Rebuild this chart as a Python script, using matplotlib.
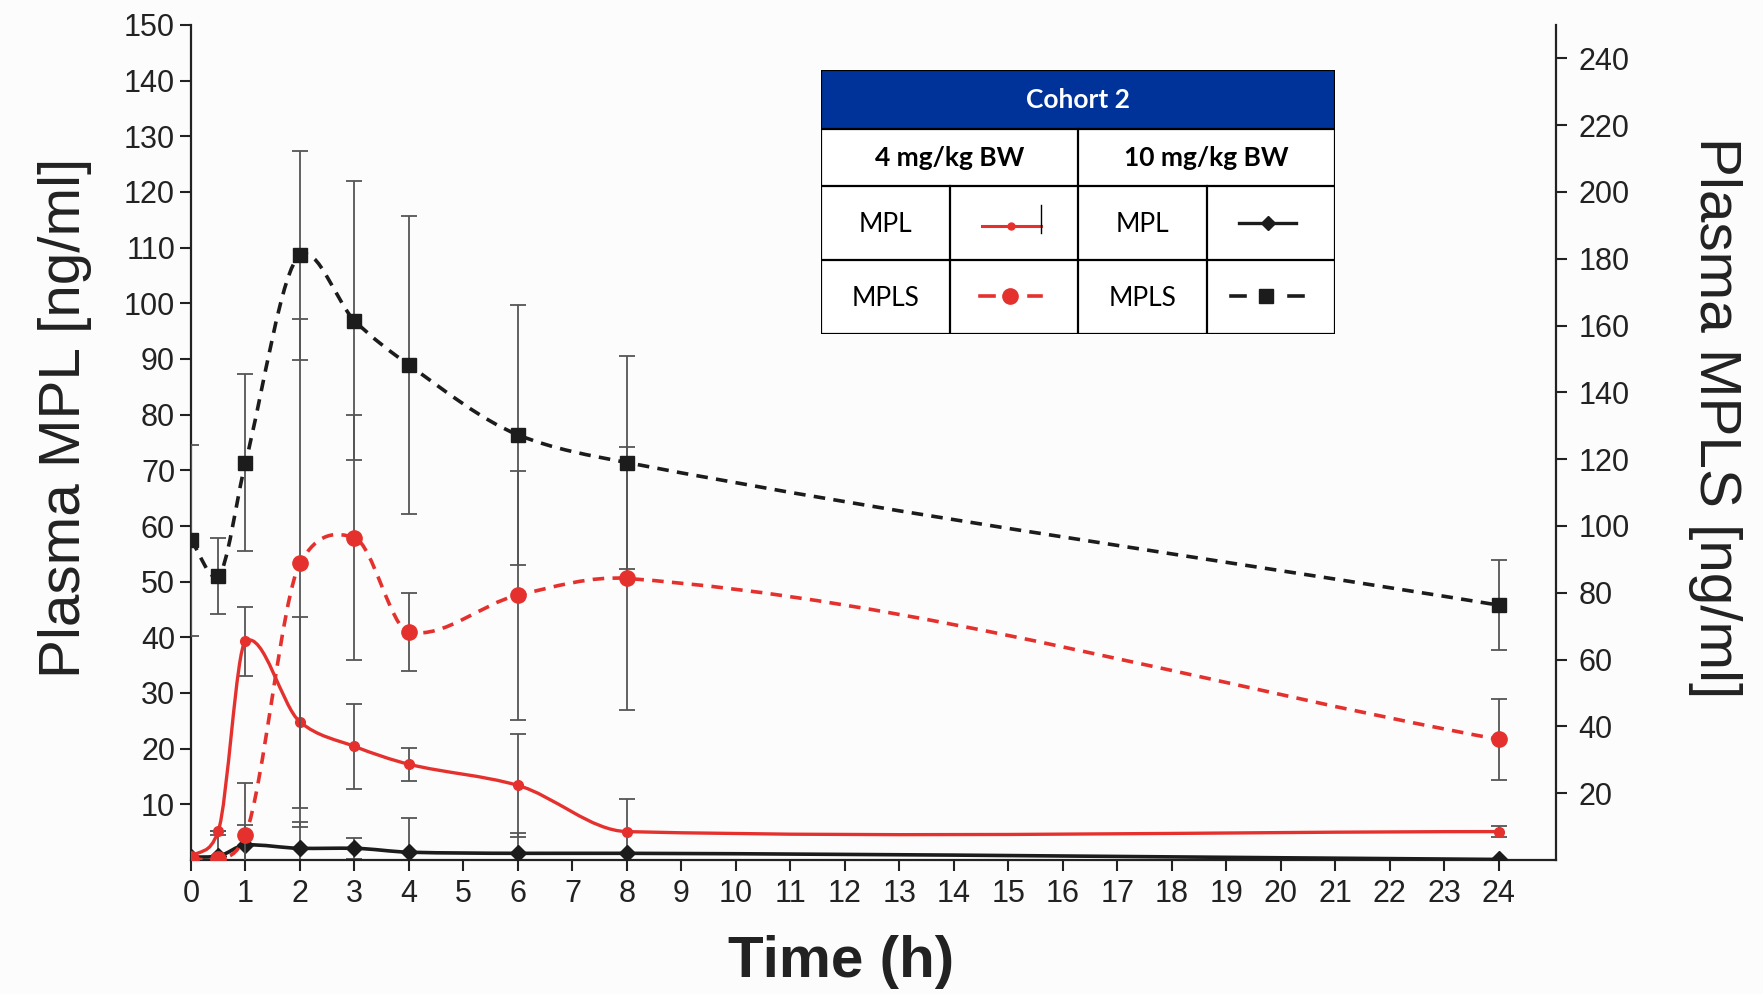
import numpy as np
import matplotlib.pyplot as plt
from matplotlib.path import Path
from matplotlib.patches import PathPatch, Rectangle
from matplotlib.lines import Line2D

# sampling times (h)
time_h = [0, 0.5, 1, 2, 3, 4, 6, 8, 24]

# 4 mg/kg BW : MPL on the left axis, MPLS on the right axis (ng/ml)
mpl_4 = [0.5, 5.2, 39.3, 24.8, 20.4, 17.2, 13.4, 5.1, 5.1]
mpl_4_sd = [0, 0, 6.2, 18.9, 7.6, 3.0, 9.3, 5.8, 0.95]
mpls_4 = [0.3, 0.3, 7.6, 88.8, 96.5, 68.2, 79.3, 84.3, 36.1]
mpls_4_sd = [0, 0, 15.5, 73.3, 36.7, 11.7, 37.3, 39.5, 12.2]

# 10 mg/kg BW
mpl_10 = [0.5, 0.7, 2.7, 2.1, 2.1, 1.4, 1.2, 1.2, 0.1]
mpl_10_sd = [0, 3.8, 3.6, 4.8, 1.9, 6.1, 3.6, 0, 0]
mpls_10 = [95.7, 85.0, 119.0, 181.0, 161.5, 148.2, 127.3, 119.0, 76.3]
mpls_10_sd = [28.5, 11.3, 26.5, 31.2, 41.7, 44.7, 39.0, 32.0, 13.4]

x_ticks = list(range(0, 25))
left_ticks = list(range(10, 151, 10))
right_ticks = list(range(20, 241, 20))

RED = '#e5312e'
BLK = '#1c1c1c'
ERR = '#555555'
FONT = 'Liberation Sans'
TFONT = ['Lato', 'DejaVu Sans']


def smooth_path(x, y):
    # smooth curve through the points (hermite segments drawn as bezier)
    x = np.asarray(x, float)
    y = np.asarray(y, float)
    d = np.diff(y) / np.diff(x)
    h = np.diff(x)
    m = np.empty(len(x))
    m[0], m[-1] = d[0], d[-1]
    for i in range(1, len(x) - 1):
        central = (y[i + 1] - y[i - 1]) / (x[i + 1] - x[i - 1])
        if d[i - 1] * d[i] <= 0:
            mono = 0.0
        else:
            w1, w2 = 2 * h[i] + h[i - 1], h[i] + 2 * h[i - 1]
            mono = (w1 + w2) / (w1 / d[i - 1] + w2 / d[i])
        m[i] = 0.5 * (central + mono)
    verts = [(x[0], y[0])]
    codes = [Path.MOVETO]
    for i in range(len(x) - 1):
        verts += [(x[i] + h[i] / 3, y[i] + m[i] * h[i] / 3),
                  (x[i + 1] - h[i] / 3, y[i + 1] - m[i + 1] * h[i] / 3),
                  (x[i + 1], y[i + 1])]
        codes += [Path.CURVE4] * 3
    return Path(verts, codes)


fig = plt.figure(figsize=(17.63, 9.94), dpi=100, facecolor='#fcfcfc')
ax = fig.add_axes([191 / 1763, 1 - 860 / 994, 1365 / 1763, 835 / 994])
ax.set_facecolor('none')
ax2 = ax.twinx()

ax.set_xlim(0, 25.05)
ax.set_ylim(0, 150)
ax2.set_ylim(0, 250)

eb = dict(fmt='none', ecolor=ERR, elinewidth=1.3, capsize=6, capthick=1.3, zorder=2)
dash = (0, (3.2, 2.3))

# 10 mg/kg MPL (left axis)
ax.errorbar(time_h, mpl_10, yerr=mpl_10_sd, **eb)
ax.add_patch(PathPatch(smooth_path(time_h, mpl_10), fill=False,
                       edgecolor=BLK, lw=2.6, zorder=3))
ax.plot(time_h, mpl_10, ls='none', marker='D', ms=8, color=BLK, zorder=4)

# 4 mg/kg MPL (left axis)
ax.errorbar(time_h, mpl_4, yerr=mpl_4_sd, **eb)
ax.add_patch(PathPatch(smooth_path(time_h, mpl_4), fill=False,
                       edgecolor=RED, lw=2.4, zorder=5))
ax.plot(time_h, mpl_4, ls='none', marker='o', ms=7, color=RED, zorder=6)

# 10 mg/kg MPLS (right axis)
ax2.errorbar(time_h, mpls_10, yerr=mpls_10_sd, **eb)
ax2.add_patch(PathPatch(smooth_path(time_h, mpls_10), fill=False,
                        edgecolor=BLK, lw=2.6, ls=dash, zorder=3))
ax2.plot(time_h, mpls_10, ls='none', marker='s', ms=10, color=BLK, zorder=4)

# 4 mg/kg MPLS (right axis)
ax2.errorbar(time_h, mpls_4, yerr=mpls_4_sd, **eb)
ax2.add_patch(PathPatch(smooth_path(time_h, mpls_4), fill=False,
                        edgecolor=RED, lw=2.6, ls=dash, zorder=5))
ax2.plot(time_h, mpls_4, ls='none', marker='o', ms=11, color=RED, zorder=6)

# axes styling
for a in (ax, ax2):
    a.spines['top'].set_visible(False)
    for s in ('left', 'right', 'bottom'):
        a.spines[s].set_linewidth(1.6)
        a.spines[s].set_color('#222222')
ax.spines['right'].set_visible(False)
ax2.spines['left'].set_visible(False)
ax2.spines['bottom'].set_visible(False)

ax.set_xticks(x_ticks)
ax.set_yticks(left_ticks)
ax2.set_yticks(right_ticks)
ax.tick_params(axis='both', direction='out', length=8, width=1.5,
               color='#222222', labelsize=22, labelcolor='#222222')
ax.tick_params(axis='x', pad=6)
ax2.tick_params(axis='y', direction='out', length=8, width=1.5,
                color='#222222', labelsize=22, labelcolor='#222222', pad=8)
for lab in ax.get_xticklabels() + ax.get_yticklabels() + ax2.get_yticklabels():
    lab.set_fontfamily(FONT)

fig.text(65 / 1763, 1 - 418 / 994, 'Plasma MPL [ng/ml]', rotation=90,
         ha='center', va='center', fontsize=42, family=FONT, color='#222222')
fig.text(1715 / 1763, 1 - 418 / 994, 'Plasma MPLS [ng/ml]', rotation=270,
         ha='center', va='center', fontsize=42, family=FONT, color='#222222')
fig.text(841 / 1763, 1 - 962 / 994, 'Time (h)', ha='center', va='center',
         fontsize=42, fontweight='bold', family=FONT, color='#222222')

# legend table
tb = fig.add_axes([821 / 1763, 1 - 334 / 994, 514 / 1763, 264 / 994], zorder=10)
tb.set_xlim(0, 514)
tb.set_ylim(264, 0)
tb.axis('off')
rows = [0, 58.9, 115.6, 189.8, 264]
tb.add_patch(Rectangle((0, 0), 514, 264, facecolor='white', edgecolor='none'))
tb.add_patch(Rectangle((0, 0), 514, rows[1], facecolor='#003399', edgecolor='none'))
lk = dict(color='black', lw=1.6, solid_capstyle='projecting')
for yv in rows:
    tb.add_line(Line2D([0, 514], [yv, yv], **lk))
for xv in (0, 514):
    tb.add_line(Line2D([xv, xv], [0, 264], **lk))
tb.add_line(Line2D([257, 257], [rows[1], 264], **lk))
for xv in (128.5, 385.5):
    tb.add_line(Line2D([xv, xv], [rows[2], 264], **lk))

tb.text(257, 30, 'Cohort 2', ha='center', va='center', color='white',
        fontsize=19, fontweight='bold', family=TFONT)
tb.text(128.5, 88, '4 mg/kg BW', ha='center', va='center', color='black',
        fontsize=19, fontweight='bold', family=TFONT)
tb.text(385.5, 88, '10 mg/kg BW', ha='center', va='center', color='black',
        fontsize=19, fontweight='bold', family=TFONT)
for xc in (64.25, 321.25):
    tb.text(xc, 154, 'MPL', ha='center', va='center', fontsize=19, family=TFONT)
    tb.text(xc, 228, 'MPLS', ha='center', va='center', fontsize=19, family=TFONT)

# legend samples
tb.add_line(Line2D([161, 220], [156, 156], color=RED, lw=2.2))
tb.add_line(Line2D([190], [156], color=RED, marker='o', ms=5))
tb.add_line(Line2D([220, 220], [135, 163], color='black', lw=1))
tb.add_line(Line2D([418, 475], [153, 153], color=BLK, lw=2.4))
tb.add_line(Line2D([446.5], [153], color=BLK, marker='D', ms=7))
tb.add_line(Line2D([159, 173], [226, 226], color=RED, lw=2.6))
tb.add_line(Line2D([208, 220], [226, 226], color=RED, lw=2.6))
tb.add_line(Line2D([189], [226], color=RED, marker='o', ms=11))
tb.add_line(Line2D([410, 424], [226, 226], color=BLK, lw=2.6))
tb.add_line(Line2D([468, 482], [226, 226], color=BLK, lw=2.6))
tb.add_line(Line2D([445], [226], color=BLK, marker='s', ms=10))

fig.savefig('out.png', dpi=100, facecolor=fig.get_facecolor())
